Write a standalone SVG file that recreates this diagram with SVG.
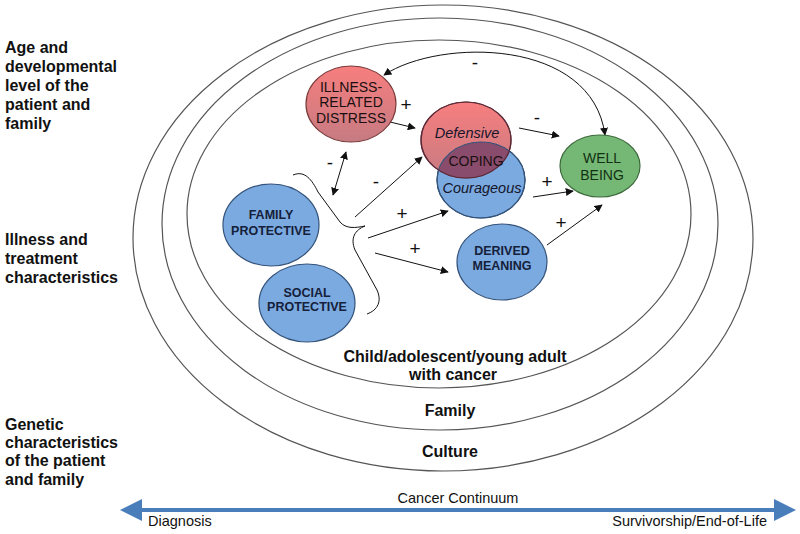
<svg xmlns="http://www.w3.org/2000/svg" width="800" height="534" viewBox="0 0 800 534">
<defs>
<marker id="ah" viewBox="0 0 10 10" refX="9" refY="5" markerWidth="8" markerHeight="8" markerUnits="userSpaceOnUse" orient="auto-start-reverse">
<path d="M0,0 L10,5 L0,10 z" fill="#111"/>
</marker>
<linearGradient id="red" x1="0" y1="0" x2="0" y2="1">
<stop offset="0" stop-color="#F77E7E"/>
<stop offset="1" stop-color="#C67B82"/>
</linearGradient>
<clipPath id="blueclip"><ellipse cx="481" cy="180" rx="44" ry="38"/></clipPath>
<style>
.ring{fill:none;stroke:#555;stroke-width:1.2}
.side{font-family:"Liberation Sans",Arial,sans-serif;font-weight:bold;font-size:16px;fill:#111}
.lbl{font-family:"Liberation Sans",Arial,sans-serif;font-weight:bold;font-size:16px;fill:#111;text-anchor:middle}
.blue{fill:#7BAAE0;stroke:#34537A;stroke-width:1.2}
.redn{fill:url(#red);stroke:#7A3A3A;stroke-width:1.2}
.green{fill:#75B875;stroke:#3C6A3C;stroke-width:1.2}
.bt{font-family:"Liberation Sans",Arial,sans-serif;font-weight:bold;font-size:12.5px;fill:#15203A;text-anchor:middle}
.rt{font-family:"Liberation Sans",Arial,sans-serif;font-size:14px;fill:#1a1010;text-anchor:middle}
.gt{font-family:"Liberation Sans",Arial,sans-serif;font-size:14px;fill:#123012;text-anchor:middle}
.it{font-family:"Liberation Sans",Arial,sans-serif;font-style:italic;font-size:14.5px;fill:#15152A;text-anchor:middle}
.sg{font-family:"Liberation Sans",Arial,sans-serif;font-size:19px;fill:#111;text-anchor:middle}
.cn{fill:none;stroke:#111;stroke-width:1}
.ct{font-family:"Liberation Sans",Arial,sans-serif;font-size:14.5px;fill:#111}
</style>
</defs>
<rect width="800" height="534" fill="#fff"/>

<g id="rings">
<ellipse class="ring" cx="443" cy="238" rx="310" ry="233"/>
<ellipse class="ring" cx="440" cy="224" rx="278" ry="206"/>
<ellipse class="ring" cx="439" cy="214" rx="252" ry="174"/>
</g>

<g id="side-labels">
<text class="side" x="5" y="53">Age and</text>
<text class="side" x="5" y="72">developmental</text>
<text class="side" x="5" y="91">level of the</text>
<text class="side" x="5" y="110">patient and</text>
<text class="side" x="5" y="129">family</text>
<text class="side" x="5" y="245">Illness and</text>
<text class="side" x="5" y="264">treatment</text>
<text class="side" x="5" y="283">characteristics</text>
<text class="side" x="5" y="430">Genetic</text>
<text class="side" x="5" y="448">characteristics</text>
<text class="side" x="5" y="466">of the patient</text>
<text class="side" x="5" y="485">and family</text>
</g>

<g id="ring-labels">
<text class="lbl" x="455" y="362">Child/adolescent/young adult</text>
<text class="lbl" x="453" y="380">with cancer</text>
<text class="lbl" x="450" y="416">Family</text>
<text class="lbl" x="450" y="457">Culture</text>
</g>

<g id="connectors">
<path class="cn" d="M293 175 C305 170 312 180 318 192 L340 222 C346 229 355 228 365 226 C355 230 350 238 355 250 L377 290 C382 301 378 310 367 314"/>
<line class="cn" x1="333" y1="195" x2="346" y2="152" marker-start="url(#ah)" marker-end="url(#ah)"/>
<line class="cn" x1="355" y1="217" x2="422" y2="157" marker-end="url(#ah)"/>
<line class="cn" x1="368" y1="238" x2="448" y2="211" marker-end="url(#ah)"/>
<line class="cn" x1="375" y1="253" x2="448" y2="272" marker-end="url(#ah)"/>
<line class="cn" x1="390" y1="122" x2="415" y2="128" marker-end="url(#ah)"/>
<line class="cn" x1="519" y1="128" x2="559" y2="136" marker-end="url(#ah)"/>
<line class="cn" x1="533" y1="197" x2="573" y2="191" marker-end="url(#ah)"/>
<line class="cn" x1="547" y1="245" x2="602" y2="205" marker-end="url(#ah)"/>
<path class="cn" d="M384 75 C440 38 592 38 605 135" marker-start="url(#ah)" marker-end="url(#ah)"/>
<text class="sg" x="330" y="169">-</text>
<text class="sg" x="376" y="188">-</text>
<text class="sg" x="402" y="220">+</text>
<text class="sg" x="415" y="255">+</text>
<text class="sg" x="406" y="111">+</text>
<text class="sg" x="537" y="124">-</text>
<text class="sg" x="547" y="188">+</text>
<text class="sg" x="561" y="229">+</text>
<text class="sg" x="475" y="69">-</text>
</g>

<g id="illness-distress">
<ellipse class="redn" cx="351" cy="104" rx="45" ry="38"/>
<text class="rt" x="351" y="92">ILLNESS-</text>
<text class="rt" x="351" y="107">RELATED</text>
<text class="rt" x="351" y="123">DISTRESS</text>
</g>

<g id="coping">
<ellipse class="blue" cx="481" cy="180" rx="44" ry="38"/>
<ellipse class="redn" cx="466" cy="140" rx="45" ry="38"/>
<ellipse cx="466" cy="140" rx="45" ry="38" fill="#8A4C6C" clip-path="url(#blueclip)"/>
<ellipse cx="481" cy="180" rx="44" ry="38" fill="none" stroke="#34537A" stroke-width="1.2"/>
<ellipse cx="466" cy="140" rx="45" ry="38" fill="none" stroke="#5A2A3A" stroke-width="1.2"/>
<text class="it" x="467" y="138">Defensive</text>
<text class="rt" x="476" y="166" font-size="13.5">COPING</text>
<text class="it" x="482" y="193">Courageous</text>
</g>

<g id="well-being">
<ellipse class="green" cx="600" cy="166" rx="40" ry="31"/>
<text class="gt" x="602" y="163">WELL</text>
<text class="gt" x="602" y="180">BEING</text>
</g>

<g id="family-protective">
<ellipse class="blue" cx="271" cy="225" rx="48" ry="41"/>
<text class="bt" x="271" y="219">FAMILY</text>
<text class="bt" x="271" y="235">PROTECTIVE</text>
</g>

<g id="social-protective">
<ellipse class="blue" cx="307" cy="303" rx="48" ry="39"/>
<text class="bt" x="307" y="297">SOCIAL</text>
<text class="bt" x="307" y="311">PROTECTIVE</text>
</g>

<g id="derived-meaning">
<ellipse class="blue" cx="502" cy="262" rx="45" ry="38"/>
<text class="bt" x="502" y="255">DERIVED</text>
<text class="bt" x="502" y="270">MEANING</text>
</g>

<g id="continuum">
<line x1="138" y1="510" x2="777" y2="510" stroke="#4A7EBB" stroke-width="4"/>
<path d="M120 510 L142 499 L142 521 z" fill="#4A7EBB"/>
<path d="M796 510 L774 499 L774 521 z" fill="#4A7EBB"/>
<text class="ct" x="458" y="503" text-anchor="middle" font-size="14">Cancer Continuum</text>
<text class="ct" x="148" y="526">Diagnosis</text>
<text class="ct" x="767" y="526" text-anchor="end">Survivorship/End-of-Life</text>
</g>
</svg>
